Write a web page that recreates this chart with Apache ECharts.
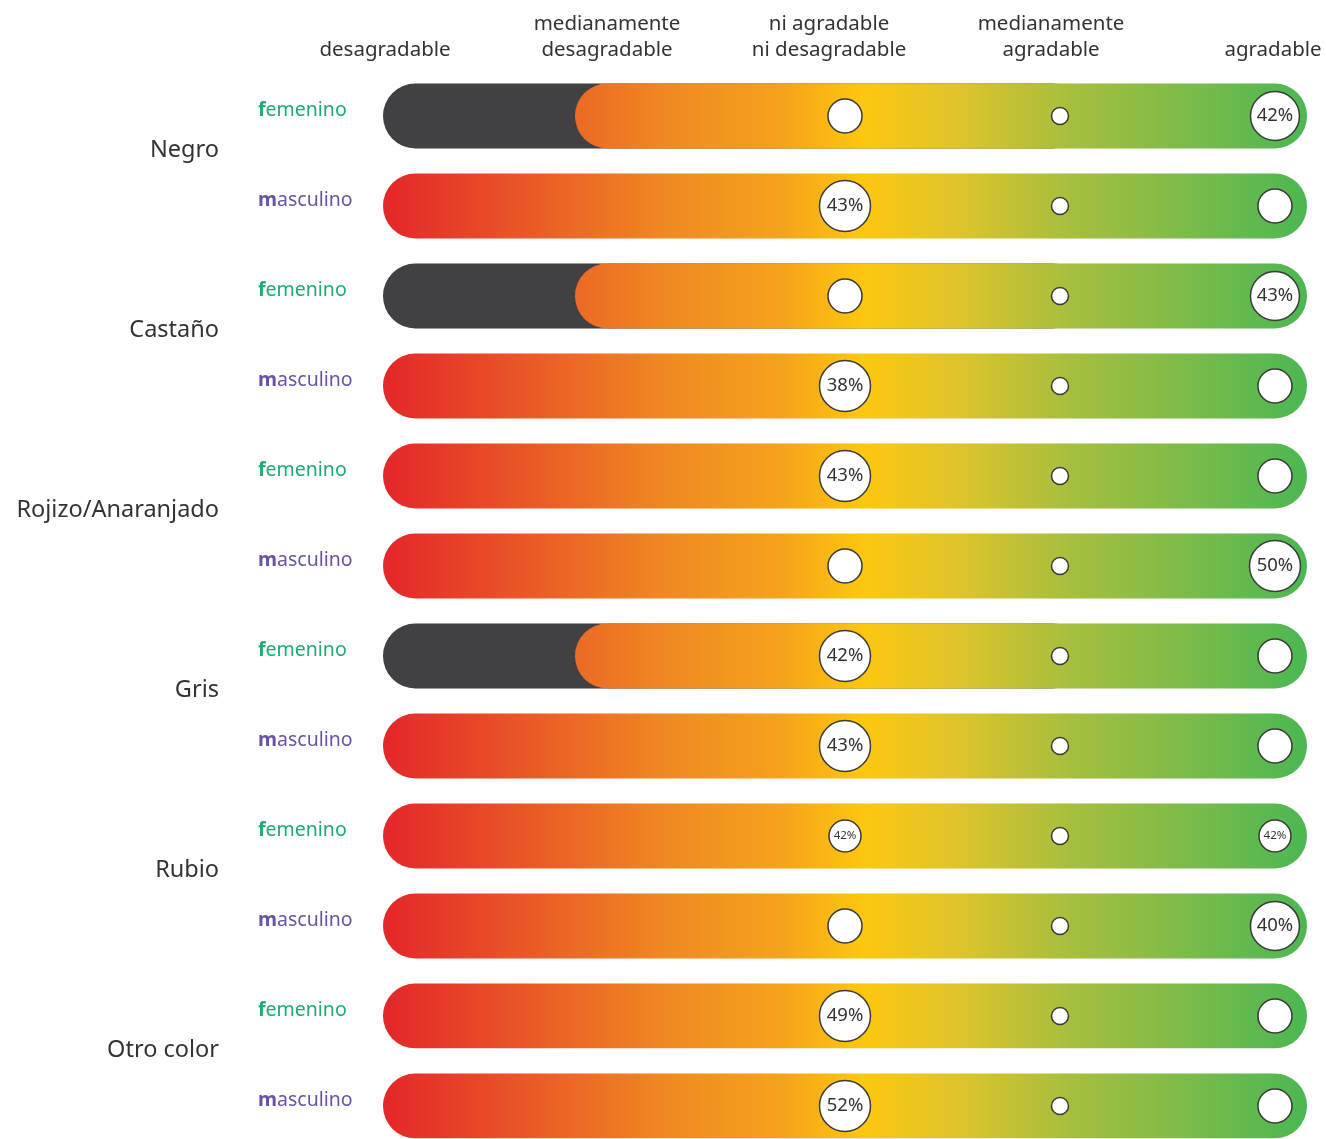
<!DOCTYPE html>
<html>
<head>
<meta charset="utf-8">
<title>Colores de pelo</title>
<script src="https://cdn.jsdelivr.net/npm/echarts@6/dist/echarts.min.js"></script>
<style>
  html, body { margin: 0; padding: 0; background: #fff; }
  #chart { width: 1326px; height: 1139px; }
</style>
</head>
<body>
<div id="chart"></div>
<script>
// categorias
var groups = ["Negro", "Castaño", "Rojizo/Anaranjado", "Gris", "Rubio", "Otro color"];
var genders = ["femenino", "masculino"];
var scaleLabels = [
  "desagradable",
  "medianamente\ndesagradable",
  "ni agradable\nni desagradable",
  "medianamente\nagradable",
  "agradable"
];
// filas con franja oscura (1 = si)
var darkRows = [1, 0, 1, 0, 0, 0, 1, 0, 0, 0, 0, 0];
// tamaño de los circulos: ni agradable / medianamente agradable / agradable
var sizeNeutral = [34, 51, 34, 51, 51, 34, 51, 51, 32, 34, 51, 51];
var sizeMedium = [17, 17, 17, 17, 17, 17, 17, 17, 17, 17, 17, 17];
var sizeAgree = [49, 34, 49, 34, 34, 51, 34, 34, 32, 49, 34, 34];
// porcentajes mostrados
var pctNeutral = [null, 43, null, 38, 43, null, 42, 43, 42, null, 49, 52];
var pctAgree = [42, null, 43, null, null, 50, null, null, 42, 40, null, null];

var rowGender = [];
groups.forEach(function() {
  genders.forEach(function(s) {
    rowGender.push(s);
  });
});
var rowIdx = rowGender.map(function(g, i) { return i; });

var X_MIN = 0.851, X_MAX = 5.149; // extremos de la barra
var GRAD_START = 1.744; // inicio del degradado en filas con franja
var DARK_END = 4.116;
var Y_MIN = -0.5, Y_MAX = 11.367;

var stops = [
  { offset: 0, color: "#e4262a" },
  { offset: 0.31, color: "#ef8a22" },
  { offset: 0.43, color: "#f6a21c" },
  { offset: 0.52, color: "#fdc70e" },
  { offset: 0.62, color: "#e0c42c" },
  { offset: 0.745, color: "#a6be3d" },
  { offset: 0.86, color: "#7fbc48" },
  { offset: 1, color: "#4bb752" }
];

var chart = echarts.init(document.getElementById("chart"));

function circle(x, row, size, pct) {
  var small = size < 40 && pct != null;
  return {
    value: [x, row],
    symbolSize: size,
    label: {
      show: pct != null,
      formatter: pct != null ? pct + "%" : "",
      fontSize: small ? 11.5 : 18.5
    }
  };
}

var circles = [];
for (var i = 0; i < rowIdx.length; i++) {
  circles.push(circle(3, i, sizeNeutral[i], pctNeutral[i]));
  circles.push(circle(4, i, sizeMedium[i], null));
  circles.push(circle(5, i, sizeAgree[i], pctAgree[i]));
}

// posiciones de las etiquetas (un poco por encima del centro)
var genderTicks = rowIdx.map(function(i) { return i - 0.067; });
var groupTicks = groups.map(function(g, i) { return i * 2 + 0.378; });

function nearest(arr, v) {
  var best = 0;
  for (var k = 1; k < arr.length; k++) {
    if (Math.abs(arr[k] - v) < Math.abs(arr[best] - v)) best = k;
  }
  return best;
}

chart.setOption({
  animation: false,
  textStyle: { fontFamily: "Noto Sans" },
  grid: { left: 383, right: 19, top: 71, bottom: 0 },
  xAxis: [
    {
      type: "value",
      min: X_MIN,
      max: X_MAX,
      show: false
    },
    {
      type: "value",
      position: "top",
      min: 0.991,
      max: 5.153,
      axisLine: { show: false },
      axisTick: { show: false },
      splitLine: { show: false },
      axisLabel: {
        customValues: [1, 2, 3, 4, 5],
        margin: 8,
        fontSize: 20.5,
        lineHeight: 26,
        color: "#333333",
        align: "center",
        formatter: function(v) {
          return scaleLabels[Math.round(v) - 1];
        }
      }
    }
  ],
  yAxis: [
    {
      type: "value",
      inverse: true,
      min: Y_MIN,
      max: Y_MAX,
      axisLine: { show: false },
      axisTick: { show: false },
      splitLine: { show: false },
      axisLabel: {
        customValues: genderTicks,
        align: "left",
        margin: 125,
        formatter: function(v) {
          var g = rowGender[nearest(genderTicks, v)];
          var st = g === "femenino" ? "f" : "m";
          return "{" + st + "b|" + g.charAt(0) + "}{" + st + "|" + g.slice(1) + "}";
        },
        rich: {
          fb: { color: "#1faa70", fontSize: 19.5, fontWeight: "bold", fontFamily: "Noto Sans" },
          f: { color: "#1faa70", fontSize: 19.5, fontFamily: "Noto Sans" },
          mb: { color: "#6b52a6", fontSize: 19.5, fontWeight: "bold", fontFamily: "Noto Sans" },
          m: { color: "#6b52a6", fontSize: 19.5, fontFamily: "Noto Sans" }
        }
      }
    },
    {
      type: "value",
      inverse: true,
      position: "left",
      min: Y_MIN,
      max: Y_MAX,
      axisLine: { show: false },
      axisTick: { show: false },
      splitLine: { show: false },
      axisLabel: {
        customValues: groupTicks,
        align: "right",
        margin: 164,
        fontSize: 23.5,
        color: "#333333",
        formatter: function(v) {
          return groups[nearest(groupTicks, v)];
        }
      }
    }
  ],
  series: [
    {
      type: "custom",
      xAxisIndex: 0,
      yAxisIndex: 0,
      clip: false,
      silent: true,
      data: rowIdx.map(function(i) { return [X_MIN, i]; }),
      renderItem: function(params, api) {
        var row = api.value(1);
        var h = api.size([0, 1])[1] * 0.72;
        var left = api.coord([X_MIN, row]);
        var right = api.coord([X_MAX, row]);
        var grad = new echarts.graphic.LinearGradient(left[0], 0, right[0], 0, stops, true);
        var children = [];
        var gx = left[0];
        if (darkRows[params.dataIndex]) {
          var dEnd = api.coord([DARK_END, row])[0];
          children.push({
            type: "rect",
            shape: { x: left[0], y: left[1] - h / 2, width: dEnd - left[0], height: h, r: h / 2 },
            style: { fill: "#414042" }
          });
          gx = api.coord([GRAD_START, row])[0];
        }
        children.push({
          type: "rect",
          shape: { x: gx, y: left[1] - h / 2, width: right[0] - gx, height: h, r: h / 2 },
          style: { fill: grad }
        });
        return { type: "group", children: children };
      }
    },
    {
      type: "scatter",
      xAxisIndex: 0,
      yAxisIndex: 0,
      silent: true,
      symbol: "circle",
      itemStyle: { color: "#ffffff", borderColor: "#3a3a3a", borderWidth: 1.5, opacity: 1 },
      label: { position: "inside", color: "#333333", fontFamily: "Noto Sans" },
      data: circles,
      z: 3
    }
  ]
});
</script>
</body>
</html>
